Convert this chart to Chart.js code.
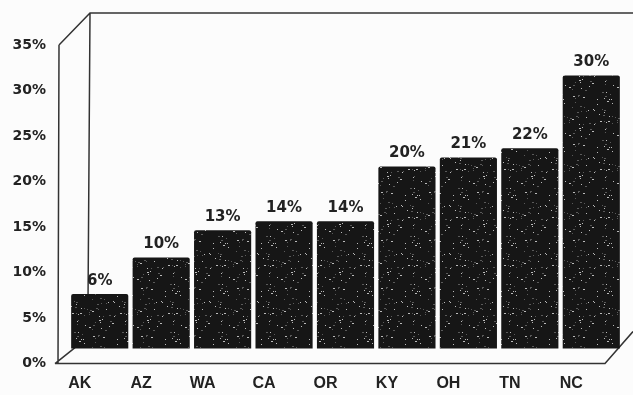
<!DOCTYPE html>
<html>
<head>
<meta charset="utf-8">
<script src="https://cdn.jsdelivr.net/npm/chart.js@4.4.1/dist/chart.umd.min.js"></script>
<style>
  html, body { margin: 0; padding: 0; background: #fcfcfc; }
  #wrap { width: 633px; height: 395px; }
</style>
</head>
<body>
<div id="wrap"><canvas id="chart"></canvas></div>
<script>
const states = ["AK", "AZ", "WA", "CA", "OR", "KY", "OH", "TN", "NC"];
const shares = [6, 10, 13, 14, 14, 20, 21, 22, 30];
const yMax = 35;
const yStep = 5;

const FONT = "DejaVu Sans";
const INK = "#222";

// speckled dark fill for the bars
function speckle() {
  const c = document.createElement("canvas");
  c.width = 48; c.height = 48;
  const g = c.getContext("2d");
  g.fillStyle = "#161616";
  g.fillRect(0, 0, 48, 48);
  let s = 7;
  const next = () => (s = (s * 1103515245 + 12345) % 2147483648) / 2147483648;
  for (let i = 0; i < 70; i++) {
    const px = Math.floor(next() * 48), py = Math.floor(next() * 48);
    const shade = next() > 0.6 ? "#bbb" : "#5a5a5a";
    g.fillStyle = shade;
    g.fillRect(px, py, next() > 0.7 ? 2 : 1, 1);
  }
  return g.createPattern(c, "repeat");
}

// bars sit slightly behind the front plane, so their zero is raised
const depthLift = 15;
const pxPerUnit = 319 / yMax;
const barMin = -depthLift / pxPerUnit;

const frame3d = {
  id: "frame3d",
  beforeDatasetsDraw(chart) {
    const { ctx, chartArea } = chart;
    const y = chart.scales.y;
    const yb = y.getPixelForValue(0);
    const yt = y.getPixelForValue(yMax);
    const x0 = chartArea.left - 10;
    ctx.save();
    ctx.strokeStyle = "#333";
    ctx.lineWidth = 1.5;
    ctx.beginPath();
    // front left edge
    ctx.moveTo(x0, yt); ctx.lineTo(x0 - 1, yb);
    // top-left diagonal, back wall left and top
    ctx.moveTo(x0, yt); ctx.lineTo(x0 + 31, yt - 32);
    ctx.lineTo(633, yt - 32);
    ctx.moveTo(x0 + 31, yt - 32); ctx.lineTo(x0 + 29, yb - 60);
    // floor
    ctx.moveTo(x0 - 4, yb); ctx.lineTo(chartArea.right - 17, yb);
    ctx.lineTo(633, yb - 32);
    ctx.moveTo(x0 - 4, yb); ctx.lineTo(x0 + 16, yb - 16);
    ctx.stroke();
    ctx.restore();
  },
  afterDatasetsDraw(chart) {
    const { ctx } = chart;
    const meta = chart.getDatasetMeta(0);
    ctx.save();
    ctx.font = "bold 15px '" + FONT + "'";
    ctx.fillStyle = INK;
    ctx.textAlign = "center";
    ctx.textBaseline = "middle";
    meta.data.forEach((bar, i) => {
      ctx.fillText(shares[i] + "%", bar.x, bar.y - 13);
    });
    ctx.restore();
  }
};

new Chart(document.getElementById("chart"), {
  type: "bar",
  data: {
    labels: states,
    datasets: [{
      data: shares,
      yAxisID: "yBar",
      backgroundColor: speckle(),
      borderRadius: 2,
      barPercentage: 0.93,
      categoryPercentage: 1
    }]
  },
  options: {
    responsive: true,
    maintainAspectRatio: false,
    animation: false,
    layout: { padding: { top: 45, right: 11, left: 0, bottom: 0 } },
    plugins: { legend: { display: false }, tooltip: { enabled: false } },
    scales: {
      x: {
        offset: true,
        grid: { display: false, drawTicks: false },
        border: { display: false },
        ticks: {
          color: INK,
          font: { family: "Liberation Sans", weight: "bold", size: 16 },
          labelOffset: -20,
          padding: 10,
          maxRotation: 0
        },
        afterFit(scale) { scale.height = 31; }
      },
      y: {
        min: 0,
        max: yMax,
        grid: { display: false, drawTicks: false },
        border: { display: false },
        ticks: {
          stepSize: yStep,
          color: INK,
          font: { family: FONT, weight: "bold", size: 14 },
          padding: 23,
          callback: v => v + "%"
        },
        afterFit(scale) { scale.width = 69; }
      },
      yBar: {
        display: false,
        min: barMin,
        max: yMax + barMin
      }
    }
  },
  plugins: [frame3d]
});
</script>
</body>
</html>
